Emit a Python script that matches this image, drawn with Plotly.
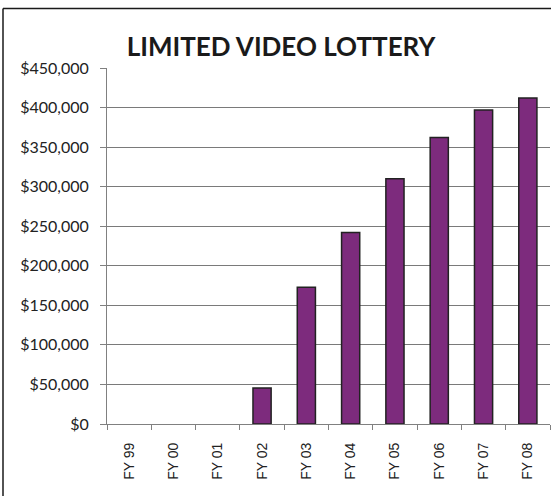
import plotly.graph_objects as go

# fiscal years and limited video lottery revenue (dollars)
years = ['FY 99', 'FY 00', 'FY 01', 'FY 02', 'FY 03', 'FY 04', 'FY 05', 'FY 06', 'FY 07', 'FY 08']
revenue = [None, None, None, 45500, 173000, 242000, 310000, 362000, 397000, 412000]
y_ticks = [0, 50000, 100000, 150000, 200000, 250000, 300000, 350000, 400000, 450000]
y_labels = ['$0', '$50,000', '$100,000', '$150,000', '$200,000', '$250,000',
            '$300,000', '$350,000', '$400,000', '$450,000']

W, H = 551, 496
L, R, T, B = 107, 1, 68, 72
pw, ph = W - L - R, H - T - B

def px_x(p):
    return (p - L) / pw

def px_y(p):
    return (H - B - p) / ph

fig = go.Figure(go.Bar(
    x=years, y=revenue, width=0.41,
    marker=dict(color='#7D2B7D', line=dict(color='#222222', width=1.5)),
))

fig.update_layout(
    width=W, height=H,
    margin=dict(l=L, r=R, t=T, b=B),
    paper_bgcolor='white', plot_bgcolor='white',
    showlegend=False,
    title=dict(text='<b>LIMITED VIDEO LOTTERY</b>', x=px_x(281), xref='paper', xanchor='center',
               y=1 - 47 / H, yanchor='middle',
               font=dict(family='Lato', size=26, color='#1a1a1a')),
    shapes=[
        dict(type='line', xref='paper', yref='paper', x0=px_x(3), x1=px_x(560),
             y0=px_y(8.5), y1=px_y(8.5), line=dict(color='#1a1a1a', width=1.5)),
        dict(type='line', xref='paper', yref='paper', x0=px_x(3), x1=px_x(3),
             y0=px_y(8.5), y1=px_y(510), line=dict(color='#1a1a1a', width=1.5)),
    ],
)

fig.update_xaxes(
    type='category', tickangle=-90, tickson='boundaries',
    ticks='outside', ticklen=5, tickcolor='#808080',
    showline=True, linecolor='#808080', linewidth=1,
    showgrid=False, ticklabelstandoff=12,
    tickfont=dict(family='Liberation Sans', size=14, color='#222222'),
)
fig.update_yaxes(
    range=[0, 450000], tickvals=y_ticks, ticktext=y_labels,
    ticks='outside', ticklen=6, tickcolor='#808080',
    showline=True, linecolor='#808080', linewidth=1,
    showgrid=True, gridcolor='#7a7a7a', gridwidth=1, zeroline=False,
    ticklabelstandoff=8,
    tickfont=dict(family='Lato', size=16, color='#222222'),
)

# drop the default page margin so the figure sits at the window's corner
fig.write_html("out.html", config={'displayModeBar': False},
               post_script="document.body.style.margin='0px';")
